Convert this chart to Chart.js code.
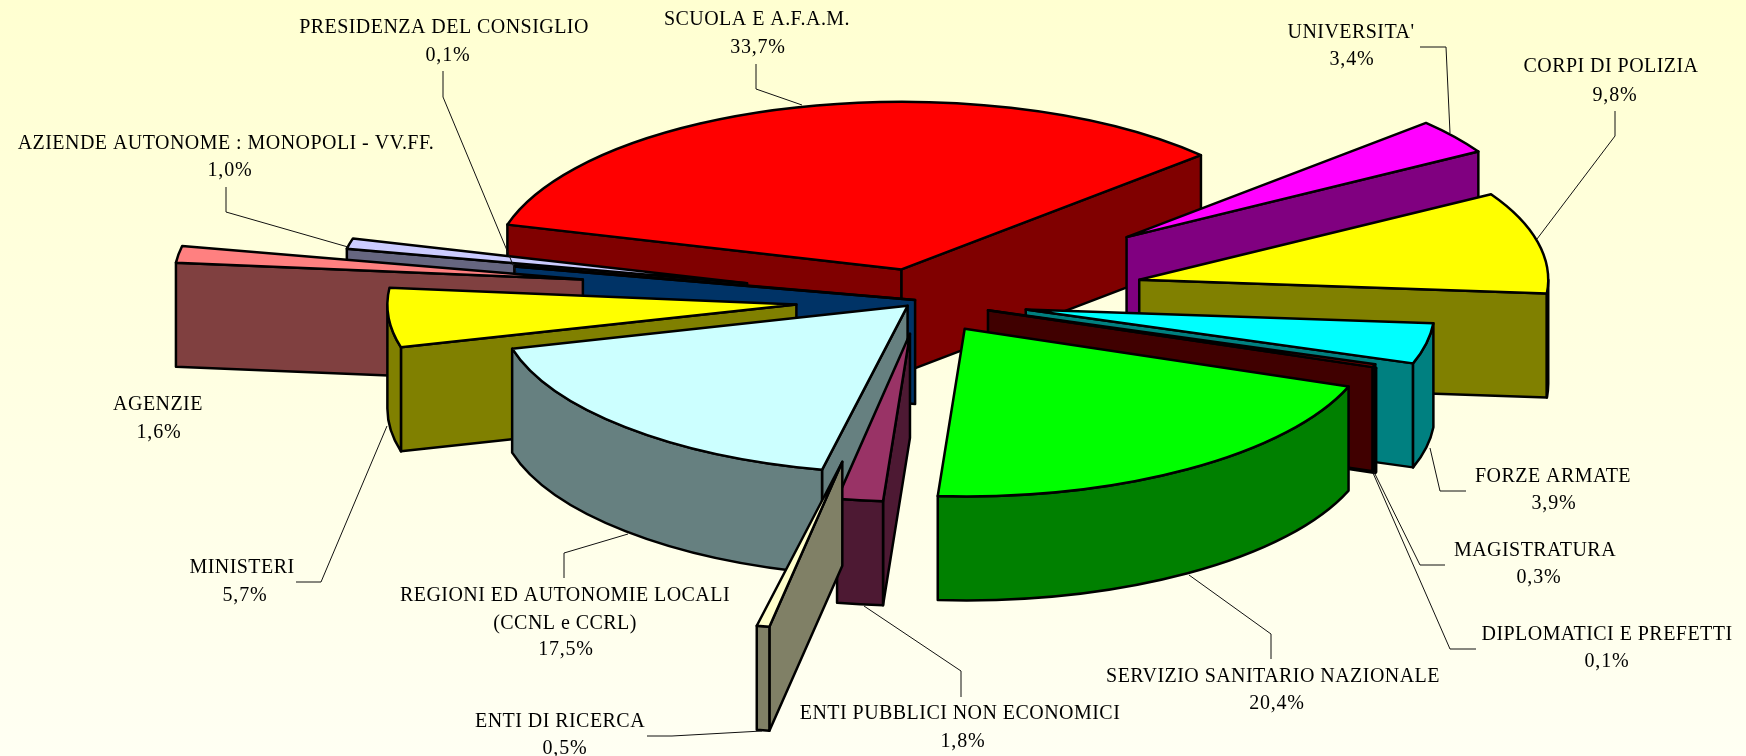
<!DOCTYPE html>
<html>
<head>
<meta charset="utf-8">
<title>Pubblico impiego</title>
<script src="https://cdn.jsdelivr.net/npm/chart.js@4/dist/chart.umd.min.js"></script>
<style>
    html, body { margin: 0; padding: 0; }
    body { width: 1746px; height: 756px; overflow: hidden; background: linear-gradient(#FFFFD1, #FFFFF3); }
    canvas { display: block; }
</style>
</head>
<body>
<canvas id="pie" width="1746" height="756"></canvas>
<script>
const categories = [
    'SCUOLA E A.F.A.M.', "UNIVERSITA'", 'CORPI DI POLIZIA', 'FORZE ARMATE', 'MAGISTRATURA',
    'DIPLOMATICI E PREFETTI', 'SERVIZIO SANITARIO NAZIONALE', 'ENTI PUBBLICI NON ECONOMICI',
    'ENTI DI RICERCA', 'REGIONI ED AUTONOMIE LOCALI\n(CCNL e CCRL)', 'MINISTERI', 'AGENZIE',
    'PRESIDENZA DEL CONSIGLIO', 'AZIENDE AUTONOME : MONOPOLI - VV.FF.'
];
const percentages = [33.7, 3.4, 9.8, 3.9, 0.3, 0.1, 20.4, 1.8, 0.5, 17.5, 5.7, 1.6, 0.1, 1.0];

// styling per slice, same order as categories
const topColors = ['#FF0000', '#FF00FF', '#FFFF00', '#00FFFF', '#800000', '#000000', '#00FF00',
    '#993366', '#FFFFCC', '#CCFFFF', '#FFFF00', '#FF8080', '#0066CC', '#CCCCFF'];
const sideColors = ['#800000', '#800080', '#808000', '#008080', '#400000', '#000000', '#008000',
    '#4D1933', '#808066', '#668080', '#808000', '#804040', '#003366', '#666680'];
const explode = [78, 258, 225, 108, 72, 76, 82, 82, 401, 18, 124, 341, 5, 178];
const paintOrder = [0, 1, 2, 3, 5, 4, 6, 13, 12, 11, 10, 9, 7, 8];

// [x, baseline] of the name lines, [x, baseline] of the value, leader polyline
const labelPlaces = [
    { name: [757, 25], value: [758, 53], leader: [[756, 64], [756, 89], [802, 105]] },
    { name: [1351, 38], value: [1352, 65], leader: [[1420, 47], [1446, 47], [1450, 133]] },
    { name: [1611, 72], value: [1615, 101], leader: [[1615, 111], [1615, 136], [1537, 239]] },
    { name: [1553, 482], value: [1554, 509], leader: [[1430, 448], [1440, 491], [1466, 491]] },
    { name: [1535, 556], value: [1539, 583], leader: [[1374, 472], [1420, 565], [1445, 565]] },
    { name: [1607, 640], value: [1607, 667], leader: [[1373, 473], [1450, 649], [1476, 649]] },
    { name: [1273, 682], value: [1277, 709], leader: [[1189, 575], [1271, 634], [1271, 659]] },
    { name: [960, 719], value: [963, 747], leader: [[864, 606], [961, 671], [961, 697]] },
    { name: [560, 727], value: [565, 754], leader: [[762, 731], [672, 736], [647, 736]] },
    { name: [565, 601], value: [566, 655], leader: [[628, 534], [564, 553], [564, 578]] },
    { name: [242, 573], value: [245, 601], leader: [[387, 426], [321, 582], [296, 582]] },
    { name: [158, 410], value: [159, 438], leader: null },
    { name: [444, 33], value: [448, 61], leader: [[443, 71], [443, 97], [516, 272]] },
    { name: [226, 149], value: [230, 176], leader: [[226, 187], [226, 212], [348, 247]] }
];

const squash = 0.41;
const depth = 104;

function apexOf(arc) {
    const mid = (arc.startAngle + arc.endAngle) / 2;
    return [
        arc.x + Math.cos(mid) * arc.options.offset,
        arc.y + Math.sin(mid) * arc.options.offset * squash
    ];
}

function rimPoint(arc, apex, angle) {
    return [
        apex[0] + Math.cos(angle) * arc.outerRadius,
        apex[1] + Math.sin(angle) * arc.outerRadius * squash
    ];
}

function paintFace(ctx, apex, corner) {
    ctx.beginPath();
    ctx.moveTo(apex[0], apex[1]);
    ctx.lineTo(corner[0], corner[1]);
    ctx.lineTo(corner[0], corner[1] + depth);
    ctx.lineTo(apex[0], apex[1] + depth);
    ctx.closePath();
    ctx.fill();
    ctx.stroke();
}

// the part of the rim between from and to, only drawn for angles facing the viewer
function paintRim(ctx, arc, apex, from, to) {
    const r = arc.outerRadius;
    ctx.beginPath();
    ctx.ellipse(apex[0], apex[1], r, r * squash, 0, from, to);
    ctx.ellipse(apex[0], apex[1] + depth, r, r * squash, 0, to, from, true);
    ctx.closePath();
    ctx.fill();
    ctx.stroke();
}

function paintSlice(ctx, arc, i) {
    const s = arc.startAngle;
    const e = arc.endAngle;
    const apex = apexOf(arc);
    ctx.fillStyle = sideColors[i];
    if (Math.cos(s) < 0) paintFace(ctx, apex, rimPoint(arc, apex, s));
    if (Math.cos(e) > 0) paintFace(ctx, apex, rimPoint(arc, apex, e));
    [0, 2 * Math.PI, -2 * Math.PI].forEach(turn => {
        const from = Math.max(s, turn);
        const to = Math.min(e, turn + Math.PI);
        if (to > from) paintRim(ctx, arc, apex, from, to);
    });
    const r = arc.outerRadius;
    ctx.beginPath();
    ctx.moveTo(apex[0], apex[1]);
    ctx.ellipse(apex[0], apex[1], r, r * squash, 0, s, e);
    ctx.closePath();
    ctx.fillStyle = arc.options.backgroundColor;
    ctx.fill();
    ctx.stroke();
}

const solidPie = {
    id: 'solidPie',
    beforeDatasetsDraw(chart) {
        const ctx = chart.ctx;
        const arcs = chart.getDatasetMeta(0).data;
        ctx.save();
        ctx.lineJoin = 'round';
        ctx.strokeStyle = '#000';
        ctx.lineWidth = 2.5;
        paintOrder.forEach(i => paintSlice(ctx, arcs[i], i));
        ctx.restore();
        return false;
    },
    afterDraw(chart) {
        const ctx = chart.ctx;
        ctx.save();
        ctx.strokeStyle = '#111';
        ctx.lineWidth = 1;
        labelPlaces.forEach(place => {
            if (!place.leader) return;
            ctx.beginPath();
            place.leader.forEach((p, n) => n ? ctx.lineTo(p[0], p[1]) : ctx.moveTo(p[0], p[1]));
            ctx.stroke();
        });
        ctx.fillStyle = '#000';
        ctx.font = '20px "Liberation Serif"';
        ctx.textAlign = 'center';
        ctx.textBaseline = 'alphabetic';
        categories.forEach((name, i) => {
            const place = labelPlaces[i];
            ctx.letterSpacing = '0.45px';
            name.split('\n').forEach((line, n) => {
                ctx.fillText(line, place.name[0], place.name[1] + n * 28);
            });
            ctx.letterSpacing = '0.8px';
            const value = percentages[i].toFixed(1).replace('.', ',') + '%';
            ctx.fillText(value, place.value[0], place.value[1]);
        });
        ctx.restore();
    }
};

new Chart(document.getElementById('pie'), {
    type: 'pie',
    data: {
        labels: categories,
        datasets: [{
            data: percentages,
            backgroundColor: topColors,
            offset: explode,
            borderWidth: 0
        }]
    },
    options: {
        responsive: false,
        animation: false,
        events: [],
        rotation: -74.5,
        radius: 409,
        layout: { padding: { left: 94, bottom: 155 } },
        plugins: { legend: { display: false }, tooltip: { enabled: false } }
    },
    plugins: [solidPie]
});
</script>
</body>
</html>
